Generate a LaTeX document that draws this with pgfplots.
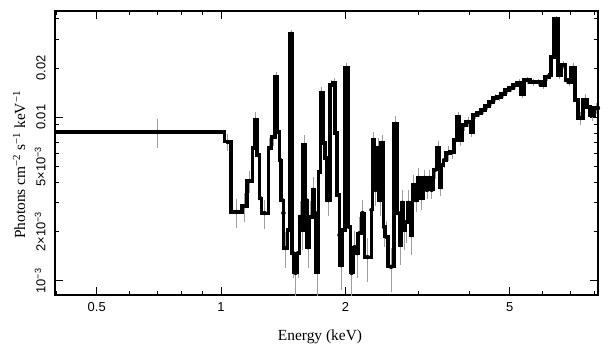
\documentclass[border=0pt]{standalone}
\usepackage{pgfplots}
\pgfplotsset{compat=1.18}
\usepackage{pgfplotstable}
\usepackage{fontspec}
\setmainfont{Liberation Serif}
\setsansfont{Liberation Sans}

% e = left bin edge (keV), c = bin centre (keV), f = flux, r = relative error
\pgfplotstableread{
e c f r
0.39 0.70 8.13e-3 0.2
1.017 1.037 7.07e-3 0.12
1.057 1.090 2.64e-3 0.2
1.124 1.140 2.87e-3 0.2
1.156 1.172 4.08e-3 0.15
1.189 1.196 6.49e-3 0.15
1.202 1.212 9.63e-3 0.12
1.222 1.229 5.88e-3 0.15
1.236 1.243 3.21e-3 0.2
1.250 1.275 2.60e-3 0.2
1.300 1.311 6.49e-3 0.15
1.322 1.336 7.58e-3 0.12
1.351 1.358 17.63e-3 0.07
1.366 1.374 8.13e-3 0.12
1.382 1.390 5.48e-3 0.15
1.397 1.405 3.12e-3 0.2
1.413 1.416 2.60e-3 0.2
1.420 1.432 1.59e-3 0.25
1.445 1.457 2.05e-3 0.25
1.469 1.477 32.28e-3 0.06
1.485 1.493 1.48e-3 0.3
1.502 1.515 1.12e-3 0.3
1.528 1.536 1.48e-3 0.3
1.545 1.553 2.46e-3 0.25
1.562 1.570 2.05e-3 0.25
1.579 1.588 6.77e-3 0.15
1.597 1.606 3.12e-3 0.2
1.615 1.624 1.61e-3 0.25
1.633 1.647 2.46e-3 0.25
1.661 1.670 3.60e-3 0.2
1.680 1.689 2.60e-3 0.2
1.698 1.708 1.135e-3 0.3
1.718 1.727 4.63e-3 0.15
1.737 1.751 14.08e-3 0.08
1.766 1.775 6.97e-3 0.12
1.785 1.795 5.64e-3 0.15
1.805 1.820 3.12e-3 0.2
1.836 1.851 15.75e-3 0.07
1.867 1.877 16.20e-3 0.07
1.888 1.898 8.02e-3 0.12
1.909 1.920 3.35e-3 0.2
1.931 1.936 1.91e-3 0.25
1.941 1.952 1.25e-3 0.3
1.963 1.979 2.05e-3 0.25
1.996 2.013 20.01e-3 0.07
2.030 2.041 2.14e-3 0.25
2.053 2.070 1.12e-3 0.3
2.087 2.105 1.61e-3 0.25
2.123 2.134 1.48e-3 0.3
2.146 2.164 1.96e-3 0.25
2.183 2.201 2.60e-3 0.2
2.220 2.264 1.40e-3 0.3
2.308 2.314 2.72e-3 0.2
2.321 2.334 7.27e-3 0.12
2.347 2.366 3.60e-3 0.2
2.386 2.399 6.49e-3 0.15
2.413 2.426 3.12e-3 0.2
2.440 2.454 6.97e-3 0.12
2.468 2.481 2.14e-3 0.25
2.495 2.516 1.86e-3 0.25
2.537 2.580 1.22e-3 0.3
2.623 2.645 9.10e-3 0.12
2.668 2.683 2.60e-3 0.2
2.698 2.713 1.66e-3 0.25
2.729 2.744 3.00e-3 0.2
2.759 2.774 2.05e-3 0.25
2.790 2.805 2.29e-3 0.25
2.821 2.845 3.00e-3 0.2
2.869 2.885 1.91e-3 0.25
2.901 2.925 3.86e-3 0.15
2.949 2.966 3.12e-3 0.15
2.983 3.008 4.26e-3 0.15
3.033 3.058 3.21e-3 0.15
3.084 3.110 4.26e-3 0.12
3.136 3.153 3.60e-3 0.12
3.171 3.189 4.26e-3 0.12
3.207 3.234 3.60e-3 0.12
3.261 3.297 4.77e-3 0.12
3.334 3.353 6.49e-3 0.1
3.372 3.391 3.75e-3 0.12
3.410 3.429 5.11e-3 0.1
3.448 3.477 5.48e-3 0.1
3.506 3.545 6.05e-3 0.1
3.585 3.625 6.14e-3 0.1
3.666 3.696 7.27e-3 0.08
3.727 3.748 10.04e-3 0.08
3.769 3.800 7.27e-3 0.08
3.832 3.875 8.97e-3 0.08
3.919 3.963 9.36e-3 0.07
4.008 4.041 8.13e-3 0.07
4.075 4.121 10.33e-3 0.06
4.167 4.214 10.62e-3 0.06
4.261 4.308 11.08e-3 0.06
4.356 4.405 11.72e-3 0.06
4.454 4.504 12.40e-3 0.06
4.555 4.606 13.12e-3 0.06
4.658 4.711 13.31e-3 0.06
4.764 4.817 13.88e-3 0.06
4.871 4.926 14.68e-3 0.06
4.981 5.037 15.10e-3 0.06
5.093 5.150 15.75e-3 0.06
5.208 5.267 16.20e-3 0.06
5.326 5.371 13.88e-3 0.06
5.416 5.508 16.90e-3 0.05
5.600 5.695 16.43e-3 0.05
5.790 5.872 16.43e-3 0.05
5.954 6.021 15.75e-3 0.05
6.088 6.157 17.63e-3 0.05
6.226 6.260 18.13e-3 0.06
6.295 6.348 23.36e-3 0.05
6.402 6.474 39.86e-3 0.04
6.546 6.601 18.13e-3 0.06
6.657 6.732 20.87e-3 0.06
6.808 6.865 16.90e-3 0.06
6.922 6.980 16.43e-3 0.06
7.038 7.117 20.01e-3 0.07
7.197 7.257 12.76e-3 0.08
7.318 7.421 9.90e-3 0.09
7.525 7.610 12.76e-3 0.08
7.695 7.760 11.56e-3 0.08
7.825 7.912 10.33e-3 0.08
8.000 8.090 11.40e-3 0.08
8.18 8.18 11.40e-3 0
}\spec

\begin{document}
\begin{tikzpicture}
\begin{axis}[
  name=ax,
  scale only axis, width=543bp, height=284bp,
  xmode=log, ymode=log,
  xmin=0.3963, xmax=8.18, ymin=8.21e-4, ymax=0.0446,
  xtick={1}, xticklabels={1},
  extra x ticks={0.5,2,5}, extra x tick labels={0.5,2,5},
  minor xtick={0.4,0.6,0.7,0.8,0.9,3,4,6,7,8},
  ytick={0.001,0.01}, yticklabels={10\textsuperscript{−3},0.01},
  extra y ticks={0.002,0.005,0.02},
  extra y tick labels={2×10\textsuperscript{−3},5×10\textsuperscript{−3},0.02},
  extra y tick style={major tick length=4bp},
  minor ytick={0.003,0.004,0.006,0.007,0.008,0.009,0.03,0.04},
  tick align=inside,
  major tick length=8bp, minor tick length=4bp,
  every tick/.style={black, line width=1bp},
  axis line style={line width=1.3bp},
  tick label style={font=\sffamily\fontsize{13}{15}\selectfont},
  xticklabel style={yshift=-4bp},
  yticklabel style={xshift=-6bp, rotate=90, anchor=south},
  xlabel={Energy (keV)},
  ylabel={Photons cm\textsuperscript{−2} s\textsuperscript{−1} keV\textsuperscript{−1}},
  label style={font=\fontsize{15.5}{18}\selectfont},
  xlabel style={at={(axis description cs:0.488,-0.148)}, anchor=center},
  ylabel style={at={(axis description cs:-0.066,0.458)}, anchor=center},
]
\addplot[only marks, mark=*, mark options={draw=none, fill=none}, forget plot,
  error bars/.cd, y dir=both, y explicit relative,
  error bar style={color=black!38, line width=0.5bp}, error mark=none]
  table[x=c, y=f, y error=r]{\spec};
\addplot[const plot, black, line width=3.1bp, mark=none]
  table[x=e, y=f]{\spec};
\end{axis}
\pgfresetboundingbox
\path ([shift={(-55bp,-62bp)}]ax.south west) rectangle ([shift={(11bp,11bp)}]ax.north east);
\end{tikzpicture}
\end{document}
